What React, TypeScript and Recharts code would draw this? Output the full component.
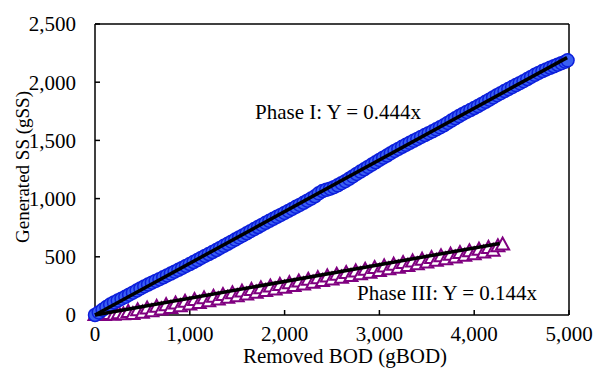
import { ScatterChart, Scatter, XAxis, YAxis, ReferenceLine, ReferenceDot } from 'recharts'

// Phase I: removed BOD (gBOD) vs generated SS (gSS)
const phaseIX = [
  0, 40, 80, 120, 160, 200, 240, 280, 320, 360, 400, 440, 480, 520, 560, 600, 640, 680, 720, 760,
  800, 840, 880, 920, 960, 1000, 1040, 1080, 1120, 1160, 1200, 1240, 1280, 1320, 1360, 1400, 1440, 1480,
  1520, 1560, 1600, 1640, 1680, 1720, 1760, 1800, 1840, 1880, 1920, 1960, 2000, 2040, 2080, 2120, 2160,
  2200, 2240, 2280, 2320, 2360, 2400, 2440, 2480, 2520, 2560, 2600, 2640, 2680, 2720, 2760, 2800, 2840,
  2880, 2920, 2960, 3000, 3040, 3080, 3120, 3160, 3200, 3240, 3280, 3320, 3360, 3400, 3440, 3480, 3520,
  3560, 3600, 3640, 3680, 3720, 3760, 3800, 3840, 3880, 3920, 3960, 4000, 4040, 4080, 4120, 4160, 4200,
  4240, 4280, 4320, 4360, 4400, 4440, 4480, 4520, 4560, 4600, 4640, 4680, 4720, 4760, 4800, 4840, 4880,
  4920, 4960, 4985,
]
const phaseIY = [
  0, 22, 45, 68, 90, 108, 124, 140, 156, 174, 192, 210, 228, 245, 262, 278, 293, 308, 324, 340,
  356, 372, 388, 404, 421, 438, 455, 472, 490, 507, 524, 541, 558, 576, 594, 612, 630, 648,
  666, 684, 702, 720, 738, 756, 774, 792, 809, 826, 843, 860, 877, 894, 911, 929, 946,
  964, 982, 1000, 1020, 1045, 1065, 1075, 1085, 1098, 1114, 1132, 1150, 1170, 1190, 1212, 1232, 1252,
  1272, 1292, 1312, 1332, 1351, 1370, 1390, 1409, 1427, 1445, 1462, 1479, 1496, 1513, 1530, 1546, 1562,
  1578, 1595, 1612, 1630, 1650, 1670, 1690, 1709, 1727, 1744, 1761, 1778, 1795, 1813, 1831, 1850, 1869,
  1888, 1906, 1924, 1941, 1958, 1975, 1992, 2009, 2027, 2045, 2063, 2080, 2096, 2110, 2124, 2137, 2150,
  2163, 2176, 2188,
]

// Phase III
const phaseIIIX = [
  0, 50, 100, 150, 200, 250, 300, 350, 400, 450, 500, 550, 600, 650, 700, 750, 800, 850, 900, 950,
  1000, 1050, 1100, 1150, 1200, 1250, 1300, 1350, 1400, 1450, 1500, 1550, 1600, 1650, 1700, 1750, 1800,
  1850, 1900, 1950, 2000, 2050, 2100, 2150, 2200, 2250, 2300, 2350, 2400, 2450, 2500, 2550, 2600, 2650,
  2700, 2750, 2800, 2850, 2900, 2950, 3000, 3050, 3100, 3150, 3200, 3250, 3300, 3350, 3400, 3450, 3500,
  3550, 3600, 3650, 3700, 3750, 3800, 3850, 3900, 3950, 4000, 4050, 4100, 4150, 4200, 4250, 4300,
]
const phaseIIIY = [
  0, 5, 0, 8, 2, 16, 6, 26, 8, 40, 20, 55, 33, 70, 48, 84, 60, 99, 76, 114,
  90, 128, 104, 143, 118, 157, 134, 172, 148, 186, 162, 201, 176, 215, 192, 230, 206,
  244, 220, 258, 235, 273, 249, 288, 263, 302, 278, 316, 292, 331, 306, 345, 321, 360,
  335, 374, 350, 388, 364, 403, 378, 417, 393, 432, 407, 446, 422, 460, 436, 475, 450,
  489, 465, 504, 479, 518, 494, 532, 508, 547, 522, 561, 537, 576, 551, 590, 605,
]

// fitted lines (end points)
const trendI = [{ x: 0, y: 0 }, { x: 4980, y: 2211 }]
const trendIII = [{ x: 0, y: 0 }, { x: 4270, y: 615 }]

const xTicks = [0, 1000, 2000, 3000, 4000, 5000]
const yTicks = [0, 500, 1000, 1500, 2000, 2500]

const phaseI = phaseIX.map((x, i) => ({ x, y: phaseIY[i] }))
const phaseIII = phaseIIIX.map((x, i) => ({ x, y: phaseIIIY[i] }))

const font = '"Liberation Serif", "Times New Roman", serif'
const fmt = (v: number) => v.toLocaleString('en-US')

const Circle = (props: any) => (
  <circle cx={props.cx} cy={props.cy} r={6.5} fill="#3a60f2" stroke="#0c1edb" strokeWidth={1.5} />
)

const Triangle = (props: any) => {
  const { cx, cy } = props
  return (
    <polygon
      points={`${cx},${cy - 7} ${cx - 6.5},${cy + 5} ${cx + 6.5},${cy + 5}`}
      fill="#ffffff"
      stroke="#800080"
      strokeWidth={2}
    />
  )
}

const NoDot = () => <g />

export default function App() {
  return (
    <div style={{ position: 'absolute', left: 0, top: 0, background: '#fff' }}>
      <ScatterChart width={593} height={370} margin={{ top: 24, right: 24, bottom: 25, left: 30 }}>
        <XAxis
          type="number"
          dataKey="x"
          domain={[0, 5000]}
          ticks={xTicks}
          tickFormatter={fmt}
          height={30}
          stroke="#000"
          strokeWidth={1.5}
          tickSize={-5}
          tickMargin={16}
          tick={{ fill: '#000', fontSize: 21, fontFamily: font }}
          label={{
            content: () => (
              <text x={345} y={356} textAnchor="middle" dominantBaseline="central" fontSize={21} fontFamily={font} fill="#000">
                Removed BOD (gBOD)
              </text>
            ),
          }}
        />
        <YAxis
          type="number"
          dataKey="y"
          domain={[0, 2500]}
          ticks={yTicks}
          tickFormatter={fmt}
          width={65}
          stroke="#000"
          strokeWidth={1.5}
          tickSize={-5}
          tickMargin={24}
          tick={{ fill: '#000', fontSize: 21, fontFamily: font }}
          label={{
            content: () => (
              <text x={22} y={167} transform="rotate(-90 22 167)" textAnchor="middle" dominantBaseline="central" fontSize={19} fontFamily={font} fill="#000">
                Generated SS (gSS)
              </text>
            ),
          }}
        />
        <ReferenceLine y={2500} stroke="#000" strokeWidth={1.5} />
        <ReferenceLine x={5000} stroke="#000" strokeWidth={1.5} />
        <Scatter data={phaseIII} shape={<Triangle />} isAnimationActive={false} />
        <Scatter data={phaseI} shape={<Circle />} isAnimationActive={false} />
        <Scatter data={trendI} shape={<NoDot />} line={{ stroke: '#000', strokeWidth: 3.5 }} isAnimationActive={false} />
        <Scatter data={trendIII} shape={<NoDot />} line={{ stroke: '#000', strokeWidth: 3.5 }} isAnimationActive={false} />
        <ReferenceDot
          x={2563}
          y={1744}
          r={0}
          label={{ value: 'Phase I: Y = 0.444x', position: 'center', fontSize: 21, fontFamily: font, fill: '#000' }}
        />
        <ReferenceDot
          x={3713}
          y={189}
          r={0}
          label={{ value: 'Phase III: Y = 0.144x', position: 'center', fontSize: 21, fontFamily: font, fill: '#000' }}
        />
      </ScatterChart>
    </div>
  )
}
